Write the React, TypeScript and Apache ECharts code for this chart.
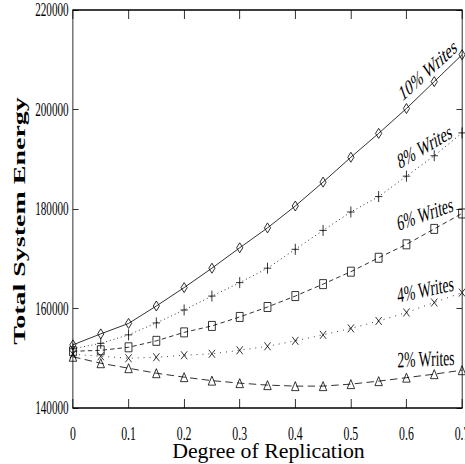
import React, { useEffect, useRef } from "react";
import * as echarts from "echarts";

// Degree of replication (x values)
const replication = [0, 0.05, 0.1, 0.15, 0.2, 0.25, 0.3, 0.35, 0.4, 0.45, 0.5, 0.55, 0.6, 0.65, 0.7];

// Total system energy per write ratio
const writes10 = [152700, 154900, 157000, 160500, 164200, 168100, 172200, 176200, 180600, 185400, 190400, 195200, 200200, 205600, 211000];
const writes8 = [151900, 153000, 154700, 157100, 159700, 162500, 165200, 168100, 171900, 175700, 179400, 182500, 186600, 190700, 195300];
const writes6 = [151400, 151600, 152200, 153500, 155200, 156500, 158300, 160300, 162500, 164900, 167400, 170200, 172900, 176000, 179100];
const writes4 = [150800, 150400, 150000, 150200, 150600, 150900, 151600, 152400, 153500, 154700, 156000, 157500, 159200, 161200, 163200];
const writes2 = [150300, 149000, 148000, 147000, 146200, 145500, 145000, 144600, 144400, 144400, 144800, 145400, 146100, 146800, 147600];

const seriesNames = ["10% Writes", "8% Writes", "6% Writes", "4% Writes", "2% Writes"];
const yTicks = [140000, 160000, 180000, 200000, 220000];
const xTicks = [0, 0.1, 0.2, 0.3, 0.4, 0.5, 0.6, 0.7];

const SCALE = 0.62;
const W = 750;
const H = 464;
const FONT = "'Liberation Serif', 'Times New Roman', serif";

export default function App() {
  const ref = useRef<HTMLDivElement>(null);

  useEffect(() => {
    if (!ref.current) return;
    const chart = echarts.init(ref.current, undefined, { renderer: "svg", width: W, height: H });

    const mk = (vals: number[]) => replication.map((x, i) => [x, vals[i]]);
    const base = (name: string, vals: number[], symbol: string, size: number[], dash: any) => ({
      name,
      type: "line",
      data: mk(vals),
      symbol,
      symbolSize: size,
      clip: false,
      itemStyle: { color: "transparent", borderColor: "#000", borderWidth: 1 },
      lineStyle: { color: "#000", width: 1, type: dash, cap: "butt" },
      emphasis: { disabled: true },
    });

    const label = (text: string, x: number, y: number, deg: number) => ({
      type: "text",
      x,
      y,
      rotation: (deg * Math.PI) / 180,
      style: {
        text,
        fill: "#000",
        font: `22px ${FONT}`,
        align: "center",
        verticalAlign: "middle",
      },
    });

    const axisCommon = (lw: number) => ({
      type: "value",
      splitLine: { show: false },
      axisLine: { show: true, onZero: false, lineStyle: { color: "#000", width: lw } },
      axisTick: { show: true, inside: true, length: 9, lineStyle: { color: "#000", width: 1 } },
    });

    chart.setOption({
      animation: false,
      backgroundColor: "#fff",
      grid: {
        left: 117.7,
        right: 4.8,
        top: 10,
        bottom: 56,
        containLabel: false,
        outerBoundsMode: "none",
      },
      xAxis: [
        {
          ...axisCommon(1.6),
          position: "bottom",
          min: xTicks[0],
          max: xTicks[xTicks.length - 1],
          interval: 0.1,
          axisLabel: {
            color: "#000",
            fontFamily: FONT,
            fontSize: 19,
            margin: 16,
            formatter: (v: number) => String(Math.round(v * 10) / 10),
          },
        },
        {
          ...axisCommon(1.6),
          position: "top",
          min: xTicks[0],
          max: xTicks[xTicks.length - 1],
          interval: 0.1,
          axisLabel: { show: false },
        },
      ],
      yAxis: [
        {
          ...axisCommon(1),
          position: "left",
          min: yTicks[0],
          max: yTicks[yTicks.length - 1],
          interval: 20000,
          axisLabel: {
            color: "#000",
            fontFamily: FONT,
            fontSize: 18,
            margin: 7,
            formatter: (v: number) => String(v),
          },
        },
        {
          ...axisCommon(1),
          position: "right",
          min: yTicks[0],
          max: yTicks[yTicks.length - 1],
          interval: 20000,
          axisLabel: { show: false },
        },
      ],
      series: [
        base(seriesNames[0], writes10, "diamond", [10, 10], "solid"),
        base(seriesNames[1], writes8, "path://M0,5L10,5M5,0L5,10", [12, 11], [1.5, 4.5]),
        base(seriesNames[2], writes6, "rect", [11, 9], [7, 5]),
        base(seriesNames[3], writes4, "path://M0,0L10,10M10,0L0,10", [10, 8], [1.5, 8]),
        base(seriesNames[4], writes2, "triangle", [12, 9], [12, 7]),
      ],
      graphic: [
        {
          type: "text",
          x: 30,
          y: 221,
          rotation: Math.PI / 2,
          style: {
            text: "Total System Energy",
            fill: "#000",
            font: `bold 28px ${FONT}`,
            align: "center",
            verticalAlign: "middle",
          },
        },
        {
          type: "text",
          x: 433,
          y: 450,
          scaleX: 1.6,
          style: {
            text: "Degree of Replication",
            fill: "#000",
            font: `22px ${FONT}`,
            align: "center",
            verticalAlign: "middle",
          },
        },
        label(seriesNames[0], 690.2, 70, 29.5),
        label(seriesNames[1], 684.9, 146.5, 20.5),
        label(seriesNames[2], 685.6, 214, 12.5),
        label(seriesNames[3], 686.1, 289.5, 7.5),
        label(seriesNames[4], 687, 359, 1.5),
      ],
    });

    return () => chart.dispose();
  }, []);

  return (
    <div
      style={{
        position: "absolute",
        left: 0,
        top: 0,
        width: 465,
        height: 464,
        overflow: "hidden",
        background: "#fff",
      }}
    >
      <div
        ref={ref}
        style={{ width: W, height: H, transform: `scaleX(${SCALE})`, transformOrigin: "0 0" }}
      />
    </div>
  );
}
